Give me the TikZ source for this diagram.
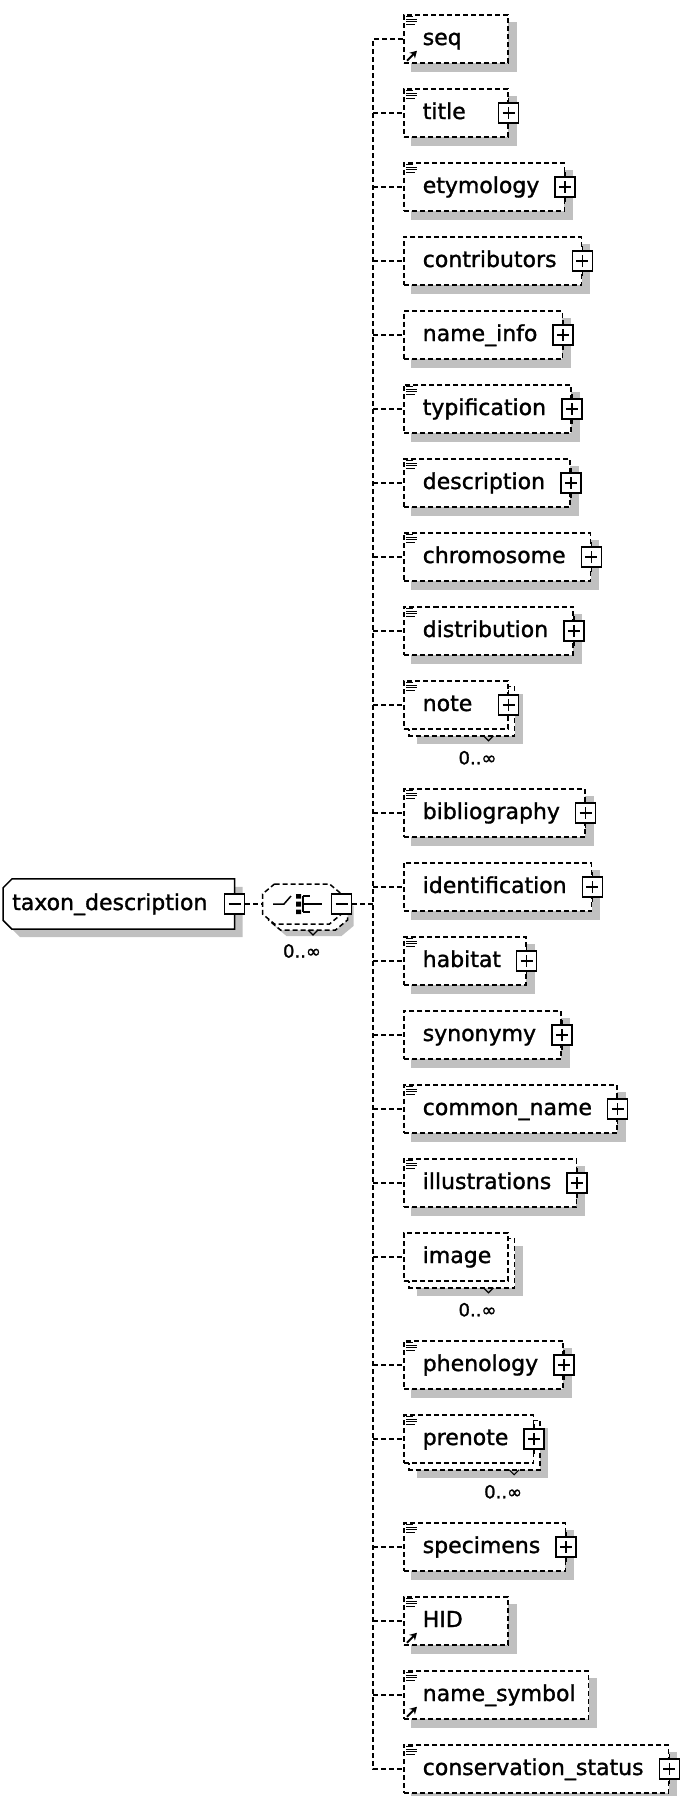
\documentclass[tikz,border=0pt]{standalone}
\usepackage{fontspec}
\setmainfont[FakeBold=1.4]{DejaVu Sans}
\usetikzlibrary{arrows.meta,positioning}
\pgfdeclarelayer{background}
\pgfsetlayers{background,main}
\definecolor{shadowgray}{RGB}{192,192,192}

% element box text: 19pt left gap, room for the button on the right
\newlength\elwd
\newcommand\eltext[2]{%
  \settowidth\elwd{#1}%
  \ifdim\dimexpr\elwd+19pt+#2\relax<104pt
    \setlength\elwd{\dimexpr104pt-19pt-#2\relax}%
  \fi
  \hspace*{19pt}\makebox[\elwd][l]{#1}\hspace*{#2}}
\newcommand\elp[1]{\eltext{#1}{25pt}}
\newcommand\eln[1]{\eltext{#1}{13pt}}

% decorations of an element box
\newcommand\shadebox[1]{%
  \begin{pgfonlayer}{background}
    \fill[shadowgray] ([shift={(8,8)}]#1.north west) rectangle ([shift={(8,8)}]#1.south east);
  \end{pgfonlayer}}
\newcommand\multibox[1]{%
  \begin{pgfonlayer}{background}
    \fill[shadowgray] ([shift={(14,14)}]#1.north west) rectangle ([shift={(14,14)}]#1.south east);
    \draw[dashln, fill=white] ([shift={(6,6)}]#1.north west) rectangle ([shift={(6,6)}]#1.south east);
  \end{pgfonlayer}
  \draw[thinln] ([shift={(-25,6)}]#1.south east) -- ([shift={(-20,11)}]#1.south east) -- ([shift={(-15,6)}]#1.south east);
  \node[mult] (#1-m) at ([shift={(-31,28)}]#1.south east) {0..∞};}
\newcommand\plusat[1]{%
  \draw[solidln] ([shift={(0,-15)}]#1.east) -- ([shift={(0,15)}]#1.east);
  \node[plusbtn] (#1-x) at (#1.east) {};}
\newcommand\docmark[1]{%
  \draw[line width=1pt] ([shift={(3,2.5)}]#1.north west) -- +(7,0)
    ([shift={(3,5)}]#1.north west) -- +(11,0)
    ([shift={(3,7.5)}]#1.north west) -- +(11,0)
    ([shift={(3,10)}]#1.north west) -- +(9,0);}
\newcommand\refmark[1]{%
  \draw[line width=2pt, -{Stealth[length=7pt,width=8pt]}] ([shift={(4,-3)}]#1.south west) -- ([shift={(14,-13)}]#1.south west);}
\newcommand\octpath{(-27.5,-20) -- (27.5,-20) -- (39.5,-10) -- (39.5,10) -- (27.5,20) -- (-27.5,20) -- (-39.5,10) -- (-39.5,-10) -- cycle}

\begin{document}
\begin{tikzpicture}[x=1pt, y=-1pt,
    dashln/.style={line width=1.5pt, dash pattern=on 5pt off 3pt},
    solidln/.style={line width=1.5pt, solid},
    thinln/.style={line width=1.1pt, solid},
    el/.style={draw, dashln, fill=white, anchor=west, minimum height=48pt,
      inner xsep=0pt, inner ysep=0pt, text height=15pt, text depth=3pt,
      font=\fontsize{22}{26}\selectfont},
    rootbox/.style={anchor=west, minimum height=50pt, inner sep=0pt,
      text height=15pt, text depth=3pt, font=\fontsize{22}{26}\selectfont},
    btn/.style={draw, solidln, fill=white, minimum size=20pt, inner sep=0pt},
    minusbtn/.style={btn, path picture={\draw[solidln]
      ([xshift=-6pt]path picture bounding box.center) -- ([xshift=6pt]path picture bounding box.center);}},
    plusbtn/.style={btn, path picture={\draw[solidln]
      ([xshift=-6pt]path picture bounding box.center) -- ([xshift=6pt]path picture bounding box.center)
      ([yshift=-6pt]path picture bounding box.center) -- ([yshift=6pt]path picture bounding box.center);}},
    mult/.style={inner sep=0pt, font=\fontsize{18}{21}\selectfont}
]
\useasboundingbox (0,0) rectangle (681,1796);

% root element
\node[rootbox] (txdesc) at (3,904) {\hspace*{9pt}taxon\_description\hspace*{27pt}};
\begin{pgfonlayer}{background}
\fill[shadowgray] ([shift={(17,8)}]txdesc.north west) -- ([shift={(8,8)}]txdesc.north east)
  -- ([shift={(8,8)}]txdesc.south east) -- ([shift={(17,8)}]txdesc.south west)
  -- ([shift={(8,-1)}]txdesc.south west) -- ([shift={(8,17)}]txdesc.north west) -- cycle;
\filldraw[solidln, fill=white] ([shift={(9,0)}]txdesc.north west) -- (txdesc.north east)
  -- (txdesc.south east) -- ([shift={(9,0)}]txdesc.south west)
  -- ([shift={(0,-9)}]txdesc.south west) -- ([shift={(0,9)}]txdesc.north west) -- cycle;
\end{pgfonlayer}
\node[minusbtn] (txtog) at (txdesc.east) {};

% sequence compositor
\node[minimum width=79pt, minimum height=40pt, inner sep=0pt] (seqgrp) at (302,904) {};
\fill[shadowgray, shift={(314,916)}] \octpath;
\draw[dashln, fill=white, shift={(308,910)}] \octpath;
\draw[dashln, fill=white, shift={(302,904)}] \octpath;
\draw[solidln] (273,904) -- (284,904) -- (291,896);
\fill (296,894) rectangle (301,898.5) (296,901.5) rectangle (301,906.5) (296,909.5) rectangle (301,914);
\draw[solidln] (303,896) -- (303,912) (303,896) -- (310,896) (303,912) -- (310,912) (303,904) -- (322,904);
\draw[thinln] (308,930) -- (313,935) -- (318,930);
\node[mult] (seqgrp-m) at (302,951) {0..∞};
\node[minusbtn] (seqtog) at (341.5,904) {};
\coordinate (trunk) at (373,904);

% child elements
\node[el] (seq) at (403,39) {\eln{seq}};
\node[el] (title) at (403,113) {\elp{title}};
\node[el] (etymology) at (403,187) {\elp{etymology}};
\node[el] (contributors) at (403,261) {\elp{contributors}};
\node[el] (nameinfo) at (403,335) {\elp{name\_info}};
\node[el] (typification) at (403,409) {\elp{typification}};
\node[el] (description) at (403,483) {\elp{description}};
\node[el] (chromosome) at (403,557) {\elp{chromosome}};
\node[el] (distribution) at (403,631) {\elp{distribution}};
\node[el] (note) at (403,705) {\elp{note}};
\node[el] (bibliography) at (403,813) {\elp{bibliography}};
\node[el] (identification) at (403,887) {\elp{identification}};
\node[el] (habitat) at (403,961) {\elp{habitat}};
\node[el] (synonymy) at (403,1035) {\elp{synonymy}};
\node[el] (commonname) at (403,1109) {\elp{common\_name}};
\node[el] (illustrations) at (403,1183) {\elp{illustrations}};
\node[el] (image) at (403,1257) {\eln{image}};
\node[el] (phenology) at (403,1365) {\elp{phenology}};
\node[el] (prenote) at (403,1439) {\elp{prenote}};
\node[el] (specimens) at (403,1547) {\elp{specimens}};
\node[el] (HID) at (403,1621) {\eln{HID}};
\node[el] (namesymbol) at (403,1695) {\eln{name\_symbol}};
\node[el] (consstatus) at (403,1769) {\elp{conservation\_status}};

\foreach \n in {seq,title,etymology,contributors,nameinfo,typification,description,
  chromosome,distribution,bibliography,identification,habitat,synonymy,commonname,
  illustrations,phenology,specimens,HID,namesymbol,consstatus}
  \shadebox{\n};
\foreach \n in {note,image,prenote}
  \multibox{\n};
\foreach \n in {title,etymology,contributors,nameinfo,typification,description,
  chromosome,distribution,note,bibliography,identification,habitat,synonymy,
  commonname,illustrations,phenology,prenote,specimens,consstatus}
  \plusat{\n};
\foreach \n in {seq,title,etymology,typification,description,chromosome,distribution,
  note,bibliography,habitat,commonname,illustrations,phenology,prenote,specimens,
  HID,namesymbol,consstatus}
  \docmark{\n};
\foreach \n in {seq,HID,namesymbol}
  \refmark{\n};

% connectors
\draw[dashln] (txtog) -- (seqgrp);
\draw[dashln] (seqtog) -- (trunk);
\draw[dashln] (seq.west) -| (trunk) |- (consstatus.west);
\foreach \n in {title,etymology,contributors,nameinfo,typification,description,
  chromosome,distribution,note,bibliography,identification,habitat,synonymy,
  commonname,illustrations,image,phenology,prenote,specimens,HID,namesymbol}
  \draw[dashln] (trunk |- \n.west) -- (\n.west);
\end{tikzpicture}
\end{document}
